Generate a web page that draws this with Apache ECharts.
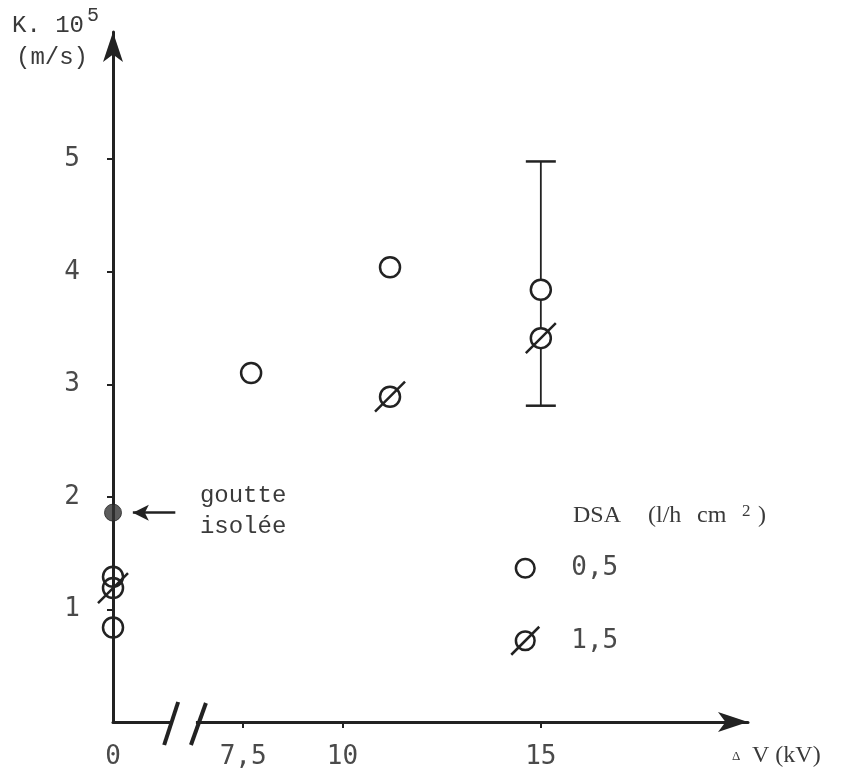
<!DOCTYPE html>
<html>
<head>
<meta charset="utf-8">
<script src="https://cdn.jsdelivr.net/npm/echarts@6/dist/echarts.min.js"></script>
<style>html,body{margin:0;padding:0;background:#fff;}#c{width:843px;height:780px;}</style>
</head>
<body>
<div id="c"></div>
<script>
// ---- data (kV on x, K.10^5 in m/s on y) ----
const xTickValues = [0, 7.5, 10, 15];
const xTickLabels = ['0', '7,5', '10', '15'];
const yTickValues = [1, 2, 3, 4, 5];

const dsa05X = [0, 0, 7.7, 11.2, 15];
const dsa05Y = [1.29, 0.84, 3.10, 4.04, 3.84];

const dsa15X = [0, 11.2, 15];
const dsa15Y = [1.19, 2.89, 3.41];

const isoX = [0];
const isoY = [1.86];

const errX = [15];
const errLow = [2.81];
const errHigh = [4.98];

// broken x axis: 0 ... // ... 7.5 onwards
const BREAK_END = 7.5;
const BREAK_SPAN = 3.28;
function toAxis(v) { return v <= 0 ? v : BREAK_SPAN + (v - BREAK_END); }

const openSym = 'path://M0 0M30 30M5 15A10 10 0 1 0 25 15A10 10 0 1 0 5 15Z';
const crossSym = 'path://M0 0M30 30M5 15A10 10 0 1 0 25 15A10 10 0 1 0 5 15ZM0 30L30 0';

function pts(xs, ys) {
  return xs.map((x, i) => ({
    value: [toAxis(x), ys[i]],
    itemStyle: x === 0 ? { color: 'rgba(255,255,255,0)' } : undefined
  }));
}

const chart = echarts.init(document.getElementById('c'));
const ink = '#222';
const txt = '#3a3a3a';
const numCol = '#4a4a4a';
const numFont = 'DejaVu Sans Mono';
const tickAxisVals = xTickValues.map(toAxis);

const option = {
  animation: false,
  backgroundColor: '#fff',
  grid: { left: 113, right: 95, top: 32, bottom: 58 },
  xAxis: {
    type: 'value', min: 0, max: 16,
    splitLine: { show: false },
    axisLine: { show: true, symbol: ['none', 'arrow'], symbolSize: [15, 30], lineStyle: { color: ink, width: 3 } },
    axisTick: { show: true, customValues: tickAxisVals.slice(1), length: 6, lineStyle: { color: ink, width: 2 } },
    axisLabel: {
      customValues: tickAxisVals, margin: 22,
      fontFamily: numFont, fontSize: 26, color: numCol,
      formatter: function (u) {
        let best = 0;
        tickAxisVals.forEach((t, i) => { if (Math.abs(t - u) < Math.abs(tickAxisVals[best] - u)) best = i; });
        return xTickLabels[best];
      }
    }
  },
  yAxis: {
    type: 'value', min: 0, max: 6.13,
    splitLine: { show: false },
    axisLine: { show: true, symbol: ['none', 'arrow'], symbolSize: [15, 30], lineStyle: { color: ink, width: 3 } },
    axisTick: { show: true, customValues: yTickValues, length: 6, lineStyle: { color: ink, width: 2 } },
    axisLabel: { customValues: yTickValues, margin: 33, fontFamily: numFont, fontSize: 26, color: numCol }
  },
  legend: {
    orient: 'vertical', left: 505, top: 548,
    itemWidth: 28, itemHeight: 28, itemGap: 42,
    data: ['0,5', '1,5'],
    itemStyle: { borderWidth: 2.5, borderColor: ink },
    textStyle: { fontFamily: numFont, fontSize: 26, color: numCol, padding: [0, 0, 0, 27] }
  },
  series: [
    {
      type: 'custom', name: 'err', z: 1,
      data: errX.map((x, i) => [toAxis(x), errLow[i], errHigh[i]]),
      renderItem: function (params, api) {
        const lo = api.coord([api.value(0), api.value(1)]);
        const hi = api.coord([api.value(0), api.value(2)]);
        const hw = 15;
        return {
          type: 'group', children: [
            { type: 'line', shape: { x1: lo[0], y1: lo[1], x2: hi[0], y2: hi[1] }, style: { stroke: ink, lineWidth: 1.8 } },
            { type: 'line', shape: { x1: lo[0] - hw, y1: lo[1], x2: lo[0] + hw, y2: lo[1] }, style: { stroke: ink, lineWidth: 2.5 } },
            { type: 'line', shape: { x1: hi[0] - hw, y1: hi[1], x2: hi[0] + hw, y2: hi[1] }, style: { stroke: ink, lineWidth: 2.5 } }
          ]
        };
      }
    },
    {
      type: 'scatter', name: '0,5', z: 3,
      symbol: openSym, symbolSize: 30,
      itemStyle: { color: '#fff', borderColor: ink, borderWidth: 2.5, opacity: 1 },
      data: pts(dsa05X, dsa05Y)
    },
    {
      type: 'scatter', name: '1,5', z: 3,
      symbol: crossSym, symbolSize: 30,
      itemStyle: { color: '#fff', borderColor: ink, borderWidth: 2.5, opacity: 1 },
      data: pts(dsa15X, dsa15Y)
    },
    {
      type: 'scatter', name: 'goutte isolée', z: 4,
      symbol: 'circle', symbolSize: 17,
      itemStyle: { color: '#333', borderColor: '#222', borderWidth: 1 },
      data: isoX.map((x, i) => [toAxis(x), isoY[i]]),
      markLine: {
        silent: true, symbol: ['none', 'arrow'], symbolSize: [12, 16],
        label: { show: false },
        lineStyle: { type: 'solid', color: ink, width: 2.5 },
        data: [[{ coord: [1.57, isoY[0]] }, { coord: [0.5, isoY[0]] }]]
      }
    }
  ]
};
chart.setOption(option);

// decorations: axis break, annotation text, axis titles
const bx1 = chart.convertToPixel({ xAxisIndex: 0 }, 1.44);
const bx2 = chart.convertToPixel({ xAxisIndex: 0 }, 2.14);
const y0 = chart.convertToPixel({ yAxisIndex: 0 }, 0);
const annX = chart.convertToPixel({ xAxisIndex: 0 }, 2.19);
const annY = chart.convertToPixel({ yAxisIndex: 0 }, isoY[0]);
const mono = '"Liberation Mono"';
const serif = '"Liberation Serif"';

chart.setOption({
  graphic: [
    { type: 'rect', shape: { x: bx1 + 2, y: y0 - 4, width: bx2 - bx1 - 4, height: 8 }, style: { fill: '#fff' }, z: 100 },
    { type: 'line', shape: { x1: bx1 - 6, y1: y0 + 23, x2: bx1 + 8, y2: y0 - 20 }, style: { stroke: ink, lineWidth: 4 }, z: 101 },
    { type: 'line', shape: { x1: bx2 - 7, y1: y0 + 23, x2: bx2 + 8, y2: y0 - 19 }, style: { stroke: ink, lineWidth: 4 }, z: 101 },
    { type: 'text', left: annX, top: annY - 32, style: { text: 'goutte\nisolée', font: '24px ' + mono, fill: txt, lineHeight: 31 }, z: 100 },
    { type: 'text', left: 12, top: 14, style: { text: 'K. 10', font: '24px ' + mono, fill: txt } },
    { type: 'text', left: 87, top: 6, style: { text: '5', font: '20px ' + mono, fill: txt } },
    { type: 'text', left: 16, top: 46, style: { text: '(m/s)', font: '24px ' + mono, fill: txt } },
    { type: 'text', left: 732, top: 750, style: { text: 'Δ', font: '13px ' + serif, fill: txt } },
    { type: 'text', left: 752, top: 744, style: { text: 'V (kV)', font: '24px ' + serif, fill: txt } },
    { type: 'text', left: 573, top: 504, style: { text: 'DSA', font: '24px ' + serif, fill: txt } },
    { type: 'text', left: 648, top: 504, style: { text: '(l/h', font: '24px ' + serif, fill: txt } },
    { type: 'text', left: 697, top: 504, style: { text: 'cm', font: '24px ' + serif, fill: txt } },
    { type: 'text', left: 742, top: 503, style: { text: '2', font: '17px ' + serif, fill: txt } },
    { type: 'text', left: 758, top: 504, style: { text: ')', font: '24px ' + serif, fill: txt } }
  ]
});
</script>
</body>
</html>
